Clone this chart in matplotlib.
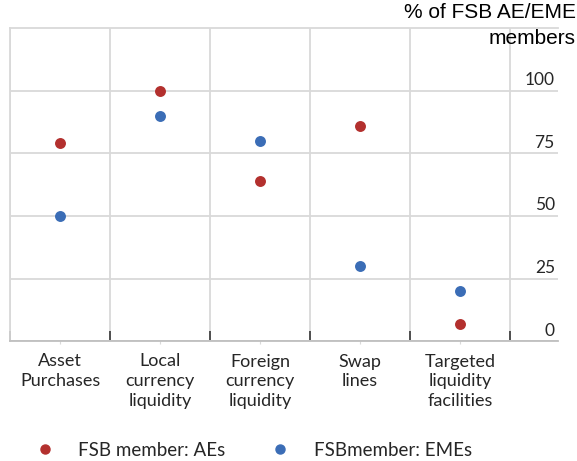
import matplotlib
matplotlib.use("Agg")
import matplotlib.pyplot as plt
import matplotlib.transforms as mtransforms
from matplotlib.lines import Line2D
import numpy as np

categories = ["Asset\nPurchases", "Local\ncurrency\nliquidity", "Foreign\ncurrency\nliquidity",
              "Swap\nlines", "Targeted\nliquidity\nfacilities"]
aes = [79, 100, 64, 86, 7]
emes = [50, 90, 80, 30, 20]
yticks = [0, 25, 50, 75, 100]
series_names = ["FSB member: AEs", "FSBmember: EMEs"]
title = "% of FSB AE/EME\nmembers"

RED = "#B3302E"
BLUE = "#3B6DB6"
GRID = "#D9D9D9"
TXT = "#262626"
FONT = "Lato"

fig = plt.figure(figsize=(5.77, 4.61), dpi=100)
ax = fig.add_axes([10/577, 1-341/461, (558-10)/577, (341-28)/461])

x = np.arange(len(categories))
ax.scatter(x, aes, s=62, color=RED, zorder=3, linewidths=0)
ax.scatter(x, emes, s=62, color=BLUE, zorder=3, linewidths=0)

ax.set_xlim(-0.5, 4.98)
ax.set_ylim(0, 125.2)

# vertical grid at category boundaries
bounds = np.arange(len(categories) + 1) - 0.5
ax.set_xticks(bounds)
ax.set_xticklabels([])
ax.tick_params(axis="x", which="major", direction="in", length=7, width=1.3, color="#444444")
for b in bounds:
    ax.axvline(b, color=GRID, lw=1.3, zorder=0)
ax.set_xticks(x, minor=True)
ax.set_xticklabels(categories, minor=True, fontsize=13, family=FONT, color=TXT, linespacing=1.3)
ax.tick_params(axis="x", which="minor", direction="out", length=2, width=0.8, color=GRID, pad=7)

ax.set_yticks(yticks)
ax.set_yticklabels([str(v) for v in yticks], fontsize=12.5, family=FONT, color=TXT)
ax.tick_params(axis="y", left=False, right=False, labelleft=False, labelright=True, pad=0)
off = mtransforms.ScaledTranslation(-8/100, 12/100, fig.dpi_scale_trans)
for lab in ax.get_yticklabels():
    lab.set_horizontalalignment("right")
    lab.set_transform(lab.get_transform() + off)
ax.yaxis.grid(True, color=GRID, lw=1.3, zorder=0)
ax.set_axisbelow(True)

for s in ["top", "bottom", "left"]:
    ax.spines[s].set_color(GRID)
    ax.spines[s].set_linewidth(1.3)
ax.spines["bottom"].set_color("#BFBFBF")
ax.spines["right"].set_visible(False)

fig.text(576/577, 1-3/461, title, ha="right", va="top", fontsize=15, family="Liberation Sans",
         color="black", linespacing=1.45)

handles = [Line2D([], [], ls="none", marker="o", ms=6.5, color=RED, mec=RED),
           Line2D([], [], ls="none", marker="o", ms=6.5, color=BLUE, mec=BLUE)]
leg = fig.legend(handles, series_names, loc="center left", bbox_to_anchor=(26/577, 1-450/461),
                 ncol=2, frameon=False, handletextpad=1.3, columnspacing=2.4,
                 prop={"family": FONT, "size": 13.5}, handlelength=1.0, borderpad=0)
for t in leg.get_texts():
    t.set_color(TXT)

fig.savefig("out.png", dpi=100)
